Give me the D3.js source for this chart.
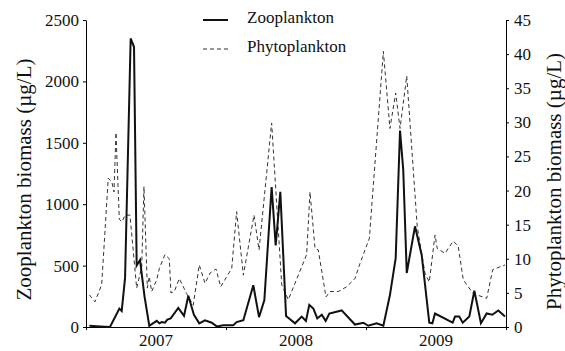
<!DOCTYPE html>
<html>
<head>
<meta charset="utf-8">
<script src="https://cdn.jsdelivr.net/npm/d3@7"></script>
<style>
  html, body { margin: 0; padding: 0; background: #fff; }
  svg { display: block; }
  svg text { font-family: "Liberation Serif"; }
</style>
</head>
<body>
<svg id="chart" width="565" height="351"></svg>
<script>
// Sampling dates as decimal years
const zooDates = [2007.024, 2007.100, 2007.171, 2007.207, 2007.238, 2007.255, 2007.279, 2007.319, 2007.343, 2007.362,
  2007.386, 2007.418, 2007.452, 2007.505, 2007.524, 2007.541, 2007.564, 2007.581, 2007.605, 2007.659,
  2007.700, 2007.731, 2007.771, 2007.809, 2007.850, 2007.898, 2007.934, 2007.981, 2008.052, 2008.076,
  2008.124, 2008.195, 2008.236, 2008.274, 2008.326, 2008.355, 2008.388, 2008.429, 2008.493, 2008.541,
  2008.571, 2008.595, 2008.624, 2008.652, 2008.684, 2008.712, 2008.738, 2008.826, 2008.921, 2008.981,
  2009.016, 2009.076, 2009.124, 2009.171, 2009.212, 2009.243, 2009.266, 2009.291, 2009.350, 2009.398,
  2009.452, 2009.474, 2009.493, 2009.619, 2009.636, 2009.666, 2009.691, 2009.738, 2009.774, 2009.821,
  2009.862, 2009.902, 2009.945, 2009.993];
// Zooplankton biomass (µg/L)
const zooValues = [10, 5, 0, 80, 150, 130, 400, 2350, 2280, 500,
  545, 250, 10, 50, 30, 40, 35, 60, 70, 155,
  90, 255, 100, 30, 55, 35, 5, 15, 15, 40,
  55, 340, 80, 220, 1140, 665, 1100, 90, 30, 85,
  50, 180, 150, 70, 100, 50, 110, 135, 20, 35,
  10, 30, 10, 260, 560, 1600, 1280, 440, 820, 585,
  35, 30, 110, 35, 85, 85, 35, 85, 295, 30,
  110, 100, 135, 85];

const phytoDates = [2007.024, 2007.064, 2007.112, 2007.159, 2007.184, 2007.200, 2007.214, 2007.238, 2007.257, 2007.279,
  2007.314, 2007.362, 2007.398, 2007.414, 2007.438, 2007.452, 2007.469, 2007.505, 2007.524, 2007.564,
  2007.595, 2007.607, 2007.631, 2007.666, 2007.719, 2007.766, 2007.809, 2007.850, 2007.886, 2007.929,
  2007.962, 2008.041, 2008.076, 2008.124, 2008.200, 2008.236, 2008.326, 2008.398, 2008.445, 2008.576,
  2008.600, 2008.636, 2008.659, 2008.714, 2008.743, 2008.802, 2008.862, 2008.921, 2008.957, 2009.024,
  2009.124, 2009.171, 2009.212, 2009.243, 2009.291, 2009.366, 2009.421, 2009.452, 2009.493, 2009.509,
  2009.564, 2009.624, 2009.659, 2009.695, 2009.766, 2009.862, 2009.905, 2009.993];
// Phytoplankton biomass (µg/L)
const phytoValues = [4.7, 3.7, 6.2, 21.8, 21.3, 19.8, 28.5, 15.8, 15.4, 16.4,
  16.4, 5.7, 8.8, 20.6, 5.7, 7.4, 5.2, 6.9, 8.6, 10.6,
  10.0, 5.0, 5.2, 7.1, 4.9, 3.2, 9.1, 6.4, 7.9, 8.5,
  5.9, 8.6, 16.9, 7.6, 16.4, 11.3, 29.9, 6.2, 4.0, 10.6,
  19.8, 11.5, 11.3, 4.4, 5.2, 5.2, 5.9, 7.1, 9.3, 13.0,
  40.4, 29.1, 34.3, 29.1, 36.8, 14.7, 7.9, 6.6, 13.5, 11.5,
  10.8, 12.6, 11.8, 6.9, 4.9, 4.2, 8.4, 9.1];

const years = [2007, 2008, 2009];
const zooTicks = [0, 500, 1000, 1500, 2000, 2500];
const phytoTicks = [0, 5, 10, 15, 20, 25, 30, 35, 40, 45];
const seriesNames = ["Zooplankton", "Phytoplankton"];

const svg = d3.select("#chart");
const plot = { left: 86, right: 506, top: 20, bottom: 327 };

const x = d3.scaleLinear().domain([2007, 2010]).range([plot.left, plot.right]);
const yZoo = d3.scaleLinear().domain([0, 2500]).range([plot.bottom, plot.top]);
const yPhyto = d3.scaleLinear().domain([0, 45]).range([plot.bottom, plot.top]);

function styleAxis(g) {
  g.attr("font-family", null);
  g.selectAll(".domain").attr("stroke", "#000").attr("stroke-width", 1);
  g.selectAll(".tick line").attr("stroke", "#000");
  g.selectAll(".tick text").attr("fill", "#111").attr("font-size", 17);
}

// Left axis
svg.append("g")
  .attr("transform", `translate(${plot.left},0)`)
  .call(d3.axisLeft(yZoo).tickValues(zooTicks).tickFormat(d3.format("d"))
    .tickSize(3).tickSizeOuter(0).tickPadding(4))
  .call(styleAxis);

// Right axis
svg.append("g")
  .attr("transform", `translate(${plot.right},0)`)
  .call(d3.axisRight(yPhyto).tickValues(phytoTicks).tickFormat(d3.format("d"))
    .tickSize(3).tickSizeOuter(0).tickPadding(5))
  .call(styleAxis);

// Bottom axis: ticks at year boundaries, labels centred within each year
svg.append("g")
  .attr("transform", `translate(0,${plot.bottom})`)
  .call(d3.axisBottom(x).tickValues([2007, 2008, 2009, 2010]).tickSize(3).tickSizeOuter(0).tickFormat(""))
  .call(styleAxis);

svg.append("g").selectAll("text")
  .data(years)
  .join("text")
  .attr("x", d => x(d + 0.5))
  .attr("y", 346)
  .attr("text-anchor", "middle")
  .attr("font-size", 17)
  .attr("fill", "#111")
  .text(d => d);

// Axis titles
svg.append("text")
  .attr("transform", `translate(31,${(plot.top + plot.bottom) / 2 + 6}) rotate(-90)`)
  .attr("text-anchor", "middle")
  .attr("font-size", 21)
  .attr("fill", "#111")
  .text("Zooplankton biomass (µg/L)");

svg.append("text")
  .attr("transform", `translate(561,${(plot.top + plot.bottom) / 2 + 8}) rotate(-90)`)
  .attr("text-anchor", "middle")
  .attr("font-size", 21)
  .attr("fill", "#111")
  .text("Phytoplankton biomass (µg/L)");

// Series lines
const zooData = zooDates.map((d, i) => [d, zooValues[i]]);
const phytoData = phytoDates.map((d, i) => [d, phytoValues[i]]);

svg.append("path")
  .datum(phytoData)
  .attr("fill", "none")
  .attr("stroke", "#333")
  .attr("stroke-width", 1)
  .attr("stroke-dasharray", "4,3")
  .attr("d", d3.line().x(d => x(d[0])).y(d => yPhyto(d[1])));

svg.append("path")
  .datum(zooData)
  .attr("fill", "none")
  .attr("stroke", "#111")
  .attr("stroke-width", 2)
  .attr("d", d3.line().x(d => x(d[0])).y(d => yZoo(d[1])));

// Legend
const legend = svg.append("g").attr("transform", "translate(203,0)");
const legendRows = [
  { name: seriesNames[0], y: 20, width: 2, dash: null, color: "#111" },
  { name: seriesNames[1], y: 49, width: 1, dash: "4,3", color: "#333" }
];
legendRows.forEach(r => {
  legend.append("line")
    .attr("x1", 0).attr("x2", 25)
    .attr("y1", r.y).attr("y2", r.y)
    .attr("stroke", r.color)
    .attr("stroke-width", r.width)
    .attr("stroke-dasharray", r.dash);
  legend.append("text")
    .attr("x", 44).attr("y", r.y + 3)
    .attr("font-size", 17)
    .attr("fill", "#111")
    .text(r.name);
});
</script>
</body>
</html>
